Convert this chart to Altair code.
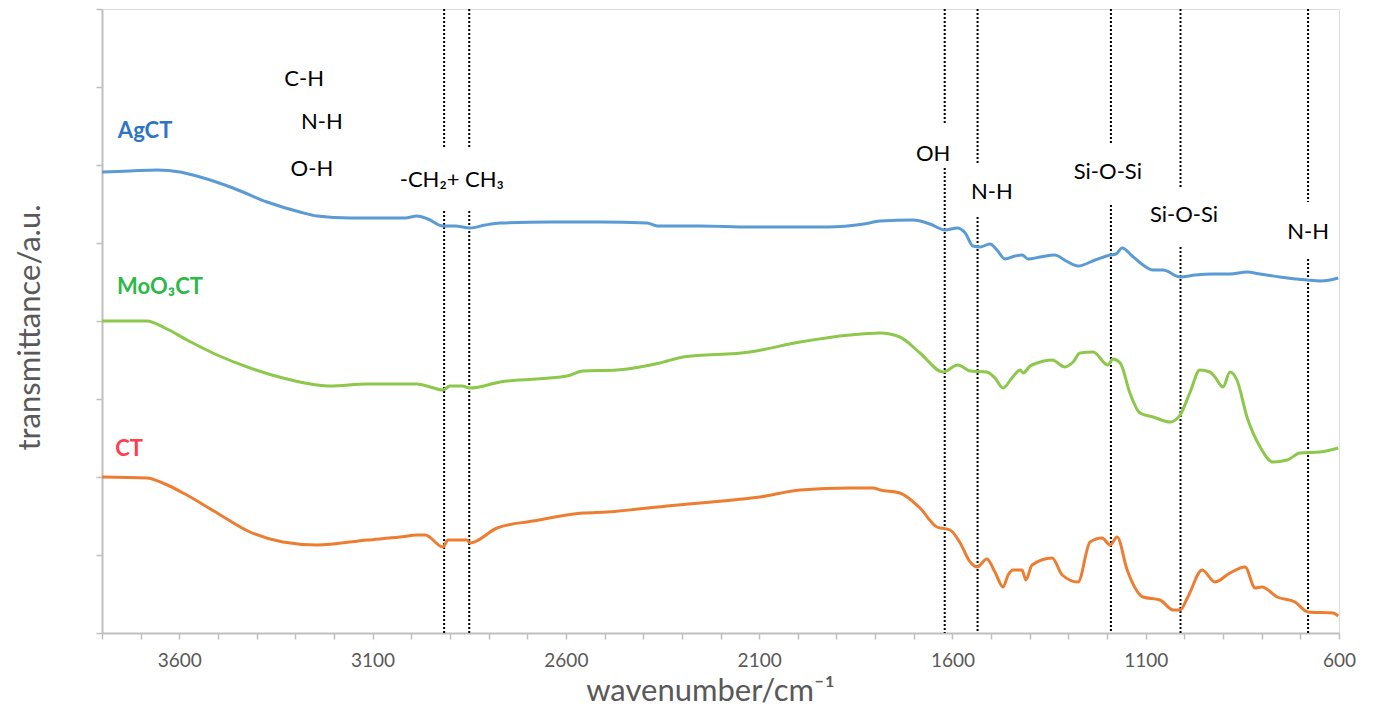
import altair as alt
import pandas as pd

# ---------------- data ----------------
ag_wn = [3800, 3728, 3658, 3598, 3546, 3461, 3373, 3288, 3244, 3158, 3081, 3016, 2985, 2957,
         2918, 2887, 2848, 2809, 2770, 2641, 2512, 2390, 2364, 2253, 2124, 1994, 1924, 1829,
         1787, 1702, 1658, 1619, 1588, 1567, 1547, 1529, 1503, 1485, 1464, 1438, 1420, 1404,
         1373, 1335, 1306, 1275, 1231, 1192, 1177, 1161, 1135, 1107, 1081, 1055, 1011, 972,
         926, 882, 838, 804, 753, 683, 649, 623, 602]
ag_val = [461, 462, 463, 461, 456, 445, 431, 421, 417, 415, 415, 415, 417, 414,
          407, 407, 405, 408, 410, 411, 411, 410, 407, 407, 406, 406, 406, 409,
          412, 413, 409, 403, 405, 400, 387, 386, 389, 383, 374, 377, 378, 374,
          376, 378, 372, 367, 373, 378, 379, 385, 377, 368, 363, 363, 356, 358,
          359, 359, 361, 359, 356, 353, 352, 353, 355]

mo_wn = [3800, 3728, 3684, 3637, 3580, 3502, 3417, 3332, 3244, 3210, 3114, 2985, 2951, 2918,
         2900, 2869, 2848, 2770, 2597, 2556, 2468, 2357, 2297, 2124, 1994, 1865, 1787, 1736,
         1684, 1624, 1586, 1554, 1511, 1490, 1469, 1446, 1425, 1417, 1399, 1381, 1342, 1309,
         1288, 1270, 1236, 1198, 1185, 1166, 1141, 1115, 1081, 1037, 1011, 985, 960, 934,
         921, 900, 882, 864, 838, 804, 771, 734, 701, 649, 602]
mo_val = [312, 312, 312, 305, 293, 278, 265, 255, 248, 247, 249, 249, 246, 243,
          247, 247, 245, 251, 257, 262, 263, 270, 276, 281, 291, 298, 300, 296,
          280, 261, 268, 262, 261, 255, 245, 255, 263, 260, 267, 270, 273, 266,
          271, 280, 281, 268, 274, 270, 240, 220, 216, 211, 218, 241, 263, 261,
          256, 246, 261, 253, 216, 186, 171, 173, 180, 181, 185]

ct_wn = [3800, 3684, 3637, 3590, 3502, 3417, 3332, 3244, 3114, 3029, 2985, 2964, 2918, 2905,
         2856, 2848, 2778, 2685, 2556, 2494, 2338, 2168, 2098, 1994, 1865, 1805, 1787, 1736,
         1684, 1640, 1606, 1580, 1554, 1536, 1511, 1490, 1469, 1456, 1443, 1420, 1410, 1394,
         1342, 1316, 1275, 1244, 1213, 1192, 1174, 1148, 1107, 1063, 1029, 1011, 991, 954,
         921, 882, 843, 817, 799, 760, 714, 680, 615, 602]
ct_val = [156, 155, 149, 140, 120, 101, 91, 88, 93, 96, 98, 98, 86, 93,
          93, 90, 105, 112, 120, 121, 127, 133, 136, 143, 145, 145, 143, 140,
          125, 106, 103, 90, 71, 66, 74, 61, 46, 58, 63, 63, 53, 68,
          75, 58, 51, 91, 95, 88, 96, 63, 36, 33, 23, 23, 36, 63,
          51, 60, 66, 45, 46, 36, 31, 21, 20, 17]

series_names = ["AgCT", "MoO3CT", "CT"]
series_colors = ["#5B9BD5", "#8CC84B", "#ED7D31"]

# dotted reference lines: wavenumber, segment top, segment bottom
band_wn = [2915, 2915, 2850, 2850, 1620, 1620, 1535, 1535, 1190, 1190, 1010, 1010, 680, 680]
band_top = [624, 422, 624, 422, 624, 465, 624, 416, 624, 428, 624, 386, 624, 374]
band_bot = [485, 0, 485, 0, 508, 0, 470, 0, 489, 0, 446, 0, 431, 0]

ann_text = ["C-H", "N-H", "O-H", "-CH\u2082+ CH\u2083", "OH", "N-H", "Si-O-Si", "Si-O-Si", "N-H"]
ann_x = [3277, 3231, 3257, 2895, 1650, 1498, 1198, 1001, 680]
ann_y = [554, 511, 464, 453, 479, 441, 461, 418, 401]

lab_text = ["AgCT", "MoO\u2083CT", "CT"]
lab_x = [3759, 3761, 3766]
lab_y = [502, 346, 184]
lab_colors = ["#2E75C6", "#2DB84A", "#FF3F4F"]

x_ticks = list(range(3800, 599, -100))
y_ticks = [0, 78, 156, 234, 312, 390, 468, 546, 624]

# ---------------- tables ----------------
rows = []
for name, wn, val in [("AgCT", ag_wn, ag_val), ("MoO3CT", mo_wn, mo_val), ("CT", ct_wn, ct_val)]:
    for w, v in zip(wn, val):
        rows.append({"series": name, "wn": w, "val": v})
spec_df = pd.DataFrame(rows)
band_df = pd.DataFrame({"wn": band_wn, "top": band_top, "bot": band_bot})
ann_df = pd.DataFrame({"text": ann_text, "wn": ann_x, "val": ann_y})
lab_df = pd.DataFrame({"text": lab_text, "wn": lab_x, "val": lab_y, "color": lab_colors})

FONT = "Lato"
GRAY = "#BFBFBF"

x_scale = alt.Scale(domain=[600, 3800], reverse=True, nice=False, zero=False)
y_scale = alt.Scale(domain=[0, 624], nice=False, zero=False)

x_axis = alt.Axis(
    title="wavenumber/cm\u207B\u00B9", values=x_ticks, format="d",
    labelExpr="datum.value % 500 == 100 ? datum.label : ''",
    labelOverlap=False, labelFlush=False,
    grid=False, domainColor=GRAY, domainWidth=2, tickColor=GRAY, tickWidth=1.5,
    tickSize=6, labelFont=FONT, labelFontSize=19, labelColor="#595959", labelPadding=12,
    titleFont=FONT, titleFontSize=31, titleFontWeight="normal", titleColor="#595959",
    titleX=608, titleY=58, titleBaseline="middle",
)
y_axis = alt.Axis(
    title="transmittance/a.u.", values=y_ticks, labels=False, grid=False,
    domainColor=GRAY, domainWidth=2, tickColor=GRAY, tickWidth=1.5, tickSize=6,
    titleFont=FONT, titleFontSize=31, titleFontWeight="normal", titleColor="#595959",
    titleX=-72, titleY=318, titleAlign="center", titleBaseline="middle", titleAngle=270,
)

lines = alt.Chart(spec_df).mark_line(strokeWidth=3, interpolate="monotone").encode(
    x=alt.X("wn:Q", scale=x_scale, axis=x_axis),
    y=alt.Y("val:Q", scale=y_scale, axis=y_axis),
    color=alt.Color("series:N", scale=alt.Scale(domain=series_names, range=series_colors), legend=None),
    detail="series:N",
)

rules = alt.Chart(band_df).mark_rule(color="black", strokeWidth=2, strokeDash=[2, 2]).encode(
    x=alt.X("wn:Q", scale=x_scale, axis=x_axis),
    y=alt.Y("top:Q", scale=y_scale, axis=y_axis),
    y2="bot:Q",
)

ann = alt.Chart(ann_df).mark_text(font=FONT, fontSize=22, color="black", align="center",
                                  baseline="middle").encode(
    x=alt.X("wn:Q", scale=x_scale, axis=x_axis),
    y=alt.Y("val:Q", scale=y_scale, axis=y_axis),
    text="text:N",
)

labs = alt.Chart(lab_df).mark_text(font=FONT, fontSize=22, fontWeight="bold", align="left",
                                   baseline="middle").encode(
    x=alt.X("wn:Q", scale=x_scale, axis=x_axis),
    y=alt.Y("val:Q", scale=y_scale, axis=y_axis),
    text="text:N",
    color=alt.Color("color:N", scale=None),
)

chart = alt.layer(rules, lines, ann, labs).properties(
    width=1237, height=624,
    autosize=alt.AutoSizeParams(type="none"),
    padding={"left": 94, "top": 1, "right": 27, "bottom": 82},
).configure_view(stroke=None).configure_axisX(labelOverlap=False).configure(background="white")

chart.save("out.html", embed_options={"renderer": "svg", "actions": False})
